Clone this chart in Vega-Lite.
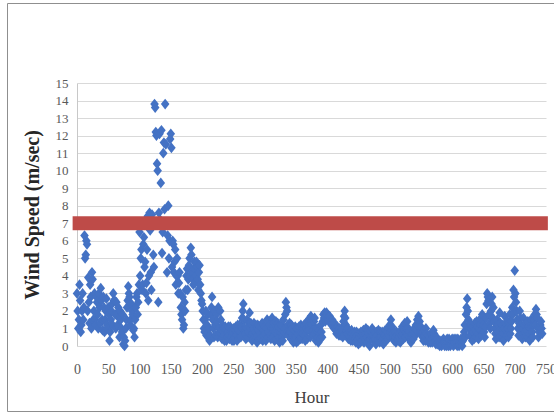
{
  "$schema": "https://vega.github.io/schema/vega-lite/v6.json",
  "width": 469,
  "height": 263,
  "autosize": "none",
  "padding": {"left": 77, "top": 83, "right": 8, "bottom": 68},
  "background": "white",
  "config": {"view": {"stroke": null}, "font": "Liberation Serif"},
  "resolve": {"axis": {"x": "independent", "y": "independent"}},
  "datasets": {
    "wind": [
      {"hour":0,"speed":3.0},{"hour":1,"speed":2.0},{"hour":2,"speed":1.0},{"hour":3,"speed":1.5},{"hour":4,"speed":3.5},{"hour":5,"speed":2.6},{"hour":6,"speed":0.8},{"hour":7,"speed":1.2},{"hour":8,"speed":2.0},{"hour":9,"speed":3.0},
      {"hour":10,"speed":1.5},{"hour":11,"speed":2.2},{"hour":12,"speed":6.3},{"hour":13,"speed":5.0},{"hour":14,"speed":5.2},{"hour":15,"speed":6.0},{"hour":16,"speed":5.8},{"hour":17,"speed":2.0},{"hour":18,"speed":3.9},{"hour":19,"speed":2.5},
      {"hour":20,"speed":1.3},{"hour":21,"speed":3.5},{"hour":22,"speed":2.8},{"hour":23,"speed":1.0},{"hour":24,"speed":4.2},{"hour":25,"speed":3.8},{"hour":26,"speed":1.5},{"hour":27,"speed":2.0},{"hour":28,"speed":3.0},{"hour":29,"speed":1.5},
      {"hour":30,"speed":1.2},{"hour":31,"speed":2.8},{"hour":32,"speed":2.5},{"hour":33,"speed":1.8},{"hour":34,"speed":1.0},{"hour":35,"speed":3.0},{"hour":36,"speed":2.2},{"hour":37,"speed":1.3},{"hour":38,"speed":3.3},{"hour":39,"speed":2.6},
      {"hour":40,"speed":1.5},{"hour":41,"speed":0.9},{"hour":42,"speed":2.8},{"hour":43,"speed":2.2},{"hour":44,"speed":0.8},{"hour":45,"speed":1.5},{"hour":46,"speed":2.0},{"hour":47,"speed":2.7},{"hour":48,"speed":1.2},{"hour":49,"speed":1.0},
      {"hour":50,"speed":2.2},{"hour":51,"speed":1.8},{"hour":52,"speed":0.3},{"hour":53,"speed":0.8},{"hour":54,"speed":1.5},{"hour":55,"speed":2.0},{"hour":56,"speed":2.4},{"hour":57,"speed":1.2},{"hour":58,"speed":3.0},{"hour":59,"speed":2.6},
      {"hour":60,"speed":2.6},{"hour":61,"speed":1.8},{"hour":62,"speed":1.0},{"hour":63,"speed":2.5},{"hour":64,"speed":1.8},{"hour":65,"speed":1.2},{"hour":66,"speed":2.2},{"hour":67,"speed":1.6},{"hour":68,"speed":0.5},{"hour":69,"speed":2.0},
      {"hour":70,"speed":1.5},{"hour":71,"speed":1.0},{"hour":72,"speed":0.8},{"hour":73,"speed":1.8},{"hour":74,"speed":0.1},{"hour":75,"speed":0.5},{"hour":76,"speed":0.0},{"hour":77,"speed":0.3},{"hour":78,"speed":1.0},{"hour":79,"speed":1.5},
      {"hour":80,"speed":2.2},{"hour":81,"speed":2.6},{"hour":82,"speed":3.4},{"hour":83,"speed":3.0},{"hour":84,"speed":2.8},{"hour":85,"speed":1.2},{"hour":86,"speed":1.5},{"hour":87,"speed":2.4},{"hour":88,"speed":2.0},{"hour":89,"speed":1.8},
      {"hour":90,"speed":0.9},{"hour":91,"speed":1.0},{"hour":92,"speed":0.5},{"hour":93,"speed":1.5},{"hour":94,"speed":2.2},{"hour":95,"speed":2.8},{"hour":96,"speed":3.0},{"hour":97,"speed":1.8},{"hour":98,"speed":2.5},{"hour":99,"speed":3.5},
      {"hour":100,"speed":6.5},{"hour":101,"speed":4.0},{"hour":102,"speed":5.0},{"hour":103,"speed":5.5},{"hour":104,"speed":3.2},{"hour":105,"speed":3.5},{"hour":106,"speed":5.8},{"hour":107,"speed":6.2},{"hour":108,"speed":4.5},{"hour":109,"speed":4.8},
      {"hour":110,"speed":3.0},{"hour":111,"speed":3.6},{"hour":112,"speed":5.5},{"hour":113,"speed":7.4},{"hour":114,"speed":2.6},{"hour":115,"speed":4.0},{"hour":116,"speed":7.6},{"hour":117,"speed":6.6},{"hour":118,"speed":4.2},{"hour":119,"speed":3.2},
      {"hour":120,"speed":7.5},{"hour":121,"speed":7.0},{"hour":122,"speed":5.2},{"hour":123,"speed":4.5},{"hour":124,"speed":13.8},{"hour":125,"speed":13.6},{"hour":126,"speed":12.2},{"hour":127,"speed":12.0},{"hour":128,"speed":10.4},{"hour":129,"speed":10.0},
      {"hour":130,"speed":2.5},{"hour":131,"speed":7.6},{"hour":132,"speed":12.1},{"hour":133,"speed":7.2},{"hour":134,"speed":9.3},{"hour":135,"speed":12.3},{"hour":136,"speed":5.3},{"hour":137,"speed":6.5},{"hour":138,"speed":11.0},{"hour":139,"speed":11.6},
      {"hour":140,"speed":7.8},{"hour":141,"speed":13.8},{"hour":142,"speed":11.5},{"hour":143,"speed":7.0},{"hour":144,"speed":4.2},{"hour":145,"speed":6.3},{"hour":146,"speed":8.0},{"hour":147,"speed":5.0},{"hour":148,"speed":6.0},{"hour":149,"speed":11.8},
      {"hour":150,"speed":12.1},{"hour":151,"speed":11.3},{"hour":152,"speed":4.5},{"hour":153,"speed":6.0},{"hour":154,"speed":5.8},{"hour":155,"speed":4.2},{"hour":156,"speed":4.8},{"hour":157,"speed":5.5},{"hour":158,"speed":3.5},{"hour":159,"speed":4.0},
      {"hour":160,"speed":5.0},{"hour":161,"speed":4.0},{"hour":162,"speed":3.0},{"hour":163,"speed":3.6},{"hour":164,"speed":4.2},{"hour":165,"speed":3.0},{"hour":166,"speed":2.2},{"hour":167,"speed":1.8},{"hour":168,"speed":1.5},{"hour":169,"speed":2.8},
      {"hour":170,"speed":1.0},{"hour":171,"speed":1.2},{"hour":172,"speed":2.5},{"hour":173,"speed":2.0},{"hour":174,"speed":3.2},{"hour":175,"speed":4.0},{"hour":176,"speed":4.4},{"hour":177,"speed":3.2},{"hour":178,"speed":3.8},{"hour":179,"speed":4.6},
      {"hour":180,"speed":5.0},{"hour":181,"speed":4.0},{"hour":182,"speed":5.6},{"hour":183,"speed":5.2},{"hour":184,"speed":4.2},{"hour":185,"speed":3.8},{"hour":186,"speed":3.5},{"hour":187,"speed":4.4},{"hour":188,"speed":4.8},{"hour":189,"speed":3.6},
      {"hour":190,"speed":4.0},{"hour":191,"speed":4.8},{"hour":192,"speed":4.5},{"hour":193,"speed":3.8},{"hour":194,"speed":3.2},{"hour":195,"speed":4.2},{"hour":196,"speed":4.6},{"hour":197,"speed":3.5},{"hour":198,"speed":3.0},{"hour":199,"speed":2.6},
      {"hour":200,"speed":2.4},{"hour":201,"speed":2.0},{"hour":202,"speed":1.5},{"hour":203,"speed":1.0},{"hour":204,"speed":0.8},{"hour":205,"speed":1.5},{"hour":206,"speed":2.0},{"hour":207,"speed":0.6},{"hour":208,"speed":1.2},{"hour":209,"speed":1.8},
      {"hour":210,"speed":0.5},{"hour":211,"speed":1.0},{"hour":212,"speed":0.3},{"hour":213,"speed":0.6},{"hour":214,"speed":1.8},{"hour":215,"speed":2.2},{"hour":216,"speed":2.8},{"hour":217,"speed":1.5},{"hour":218,"speed":1.0},{"hour":219,"speed":0.5},
      {"hour":220,"speed":2.0},{"hour":221,"speed":1.2},{"hour":222,"speed":0.6},{"hour":223,"speed":1.8},{"hour":224,"speed":1.4},{"hour":225,"speed":0.5},{"hour":226,"speed":2.2},{"hour":227,"speed":1.0},{"hour":228,"speed":0.8},{"hour":229,"speed":2.0},
      {"hour":230,"speed":1.5},{"hour":231,"speed":0.9},{"hour":232,"speed":0.4},{"hour":233,"speed":1.2},{"hour":234,"speed":1.0},{"hour":235,"speed":0.6},{"hour":236,"speed":0.3},{"hour":237,"speed":1.1},{"hour":238,"speed":0.9},{"hour":239,"speed":0.3},
      {"hour":240,"speed":0.5},{"hour":241,"speed":0.8},{"hour":242,"speed":1.1},{"hour":243,"speed":0.6},{"hour":244,"speed":0.4},{"hour":245,"speed":1.1},{"hour":246,"speed":0.8},{"hour":247,"speed":0.5},{"hour":248,"speed":0.3},{"hour":249,"speed":0.8},
      {"hour":250,"speed":1.0},{"hour":251,"speed":0.3},{"hour":252,"speed":0.5},{"hour":253,"speed":0.9},{"hour":254,"speed":1.1},{"hour":255,"speed":0.6},{"hour":256,"speed":0.3},{"hour":257,"speed":1.2},{"hour":258,"speed":0.9},{"hour":259,"speed":0.5},
      {"hour":260,"speed":1.2},{"hour":261,"speed":0.8},{"hour":262,"speed":0.5},{"hour":263,"speed":1.1},{"hour":264,"speed":1.6},{"hour":265,"speed":2.0},{"hour":266,"speed":2.4},{"hour":267,"speed":1.5},{"hour":268,"speed":1.0},{"hour":269,"speed":0.7},
      {"hour":270,"speed":0.4},{"hour":271,"speed":1.0},{"hour":272,"speed":1.5},{"hour":273,"speed":0.5},{"hour":274,"speed":0.8},{"hour":275,"speed":1.3},{"hour":276,"speed":1.9},{"hour":277,"speed":1.0},{"hour":278,"speed":1.3},{"hour":279,"speed":0.6},
      {"hour":280,"speed":0.3},{"hour":281,"speed":0.7},{"hour":282,"speed":1.0},{"hour":283,"speed":1.3},{"hour":284,"speed":0.5},{"hour":285,"speed":0.8},{"hour":286,"speed":1.2},{"hour":287,"speed":0.5},{"hour":288,"speed":0.2},{"hour":289,"speed":1.2},
      {"hour":290,"speed":0.9},{"hour":291,"speed":0.4},{"hour":292,"speed":1.1},{"hour":293,"speed":0.7},{"hour":294,"speed":0.4},{"hour":295,"speed":1.0},{"hour":296,"speed":1.3},{"hour":297,"speed":0.3},{"hour":298,"speed":0.6},{"hour":299,"speed":0.9},
      {"hour":300,"speed":1.1},{"hour":301,"speed":0.7},{"hour":302,"speed":0.3},{"hour":303,"speed":1.0},{"hour":304,"speed":1.5},{"hour":305,"speed":0.5},{"hour":306,"speed":0.8},{"hour":307,"speed":1.4},{"hour":308,"speed":1.2},{"hour":309,"speed":0.6},
      {"hour":310,"speed":0.4},{"hour":311,"speed":1.0},{"hour":312,"speed":1.6},{"hour":313,"speed":0.5},{"hour":314,"speed":1.0},{"hour":315,"speed":1.3},{"hour":316,"speed":0.3},{"hour":317,"speed":0.8},{"hour":318,"speed":1.4},{"hour":319,"speed":0.4},
      {"hour":320,"speed":0.7},{"hour":321,"speed":1.3},{"hour":322,"speed":1.1},{"hour":323,"speed":0.5},{"hour":324,"speed":0.2},{"hour":325,"speed":0.8},{"hour":326,"speed":1.0},{"hour":327,"speed":1.2},{"hour":328,"speed":0.5},{"hour":329,"speed":0.3},
      {"hour":330,"speed":1.5},{"hour":331,"speed":0.8},{"hour":332,"speed":1.0},{"hour":333,"speed":1.8},{"hour":334,"speed":2.5},{"hour":335,"speed":2.2},{"hour":336,"speed":2.0},{"hour":337,"speed":1.2},{"hour":338,"speed":0.6},{"hour":339,"speed":0.9},
      {"hour":340,"speed":1.3},{"hour":341,"speed":0.8},{"hour":342,"speed":0.4},{"hour":343,"speed":1.2},{"hour":344,"speed":1.0},{"hour":345,"speed":0.6},{"hour":346,"speed":0.2},{"hour":347,"speed":0.5},{"hour":348,"speed":0.9},{"hour":349,"speed":1.1},
      {"hour":350,"speed":0.5},{"hour":351,"speed":0.2},{"hour":352,"speed":1.0},{"hour":353,"speed":0.7},{"hour":354,"speed":0.3},{"hour":355,"speed":1.1},{"hour":356,"speed":0.8},{"hour":357,"speed":0.4},{"hour":358,"speed":1.2},{"hour":359,"speed":0.8},
      {"hour":360,"speed":0.4},{"hour":361,"speed":0.7},{"hour":362,"speed":1.0},{"hour":363,"speed":1.2},{"hour":364,"speed":0.6},{"hour":365,"speed":0.3},{"hour":366,"speed":1.3},{"hour":367,"speed":1.0},{"hour":368,"speed":0.4},{"hour":369,"speed":0.9},
      {"hour":370,"speed":1.5},{"hour":371,"speed":1.2},{"hour":372,"speed":0.9},{"hour":373,"speed":0.5},{"hour":374,"speed":1.7},{"hour":375,"speed":1.4},{"hour":376,"speed":1.2},{"hour":377,"speed":0.9},{"hour":378,"speed":0.6},{"hour":379,"speed":1.4},
      {"hour":380,"speed":1.6},{"hour":381,"speed":1.0},{"hour":382,"speed":0.3},{"hour":383,"speed":0.6},{"hour":384,"speed":1.0},{"hour":385,"speed":0.5},{"hour":386,"speed":0.2},{"hour":387,"speed":0.9},{"hour":388,"speed":0.7},{"hour":389,"speed":0.4},
      {"hour":390,"speed":1.2},{"hour":391,"speed":0.8},{"hour":392,"speed":0.5},{"hour":393,"speed":1.4},{"hour":394,"speed":1.8},{"hour":395,"speed":1.6},{"hour":396,"speed":1.9},{"hour":397,"speed":1.4},{"hour":398,"speed":1.6},{"hour":399,"speed":1.9},
      {"hour":400,"speed":1.8},{"hour":401,"speed":1.6},{"hour":402,"speed":1.5},{"hour":403,"speed":1.4},{"hour":404,"speed":1.7},{"hour":405,"speed":1.5},{"hour":406,"speed":1.3},{"hour":407,"speed":1.2},{"hour":408,"speed":1.5},{"hour":409,"speed":1.3},
      {"hour":410,"speed":1.1},{"hour":411,"speed":1.0},{"hour":412,"speed":1.3},{"hour":413,"speed":1.1},{"hour":414,"speed":0.9},{"hour":415,"speed":0.7},{"hour":416,"speed":1.1},{"hour":417,"speed":0.9},{"hour":418,"speed":0.8},{"hour":419,"speed":0.6},
      {"hour":420,"speed":1.0},{"hour":421,"speed":0.8},{"hour":422,"speed":0.6},{"hour":423,"speed":1.0},{"hour":424,"speed":0.9},{"hour":425,"speed":0.5},{"hour":426,"speed":1.4},{"hour":427,"speed":1.7},{"hour":428,"speed":2.0},{"hour":429,"speed":1.6},
      {"hour":430,"speed":1.2},{"hour":431,"speed":0.9},{"hour":432,"speed":0.7},{"hour":433,"speed":1.0},{"hour":434,"speed":0.4},{"hour":435,"speed":0.6},{"hour":436,"speed":0.8},{"hour":437,"speed":0.5},{"hour":438,"speed":0.3},{"hour":439,"speed":0.9},
      {"hour":440,"speed":0.7},{"hour":441,"speed":0.3},{"hour":442,"speed":0.5},{"hour":443,"speed":0.6},{"hour":444,"speed":0.8},{"hour":445,"speed":0.4},{"hour":446,"speed":0.2},{"hour":447,"speed":0.8},{"hour":448,"speed":0.6},{"hour":449,"speed":0.4},
      {"hour":450,"speed":0.1},{"hour":451,"speed":0.7},{"hour":452,"speed":0.5},{"hour":453,"speed":0.2},{"hour":454,"speed":0.8},{"hour":455,"speed":0.6},{"hour":456,"speed":0.3},{"hour":457,"speed":0.7},{"hour":458,"speed":0.9},{"hour":459,"speed":0.2},
      {"hour":460,"speed":0.4},{"hour":461,"speed":0.7},{"hour":462,"speed":1.0},{"hour":463,"speed":0.5},{"hour":464,"speed":0.2},{"hour":465,"speed":0.9},{"hour":466,"speed":0.7},{"hour":467,"speed":0.3},{"hour":468,"speed":0.0},{"hour":469,"speed":0.4},
      {"hour":470,"speed":0.6},{"hour":471,"speed":0.8},{"hour":472,"speed":1.0},{"hour":473,"speed":0.6},{"hour":474,"speed":0.3},{"hour":475,"speed":0.5},{"hour":476,"speed":0.8},{"hour":477,"speed":0.4},{"hour":478,"speed":0.1},{"hour":479,"speed":0.8},
      {"hour":480,"speed":0.6},{"hour":481,"speed":0.3},{"hour":482,"speed":0.9},{"hour":483,"speed":0.5},{"hour":484,"speed":0.2},{"hour":485,"speed":0.8},{"hour":486,"speed":0.5},{"hour":487,"speed":0.3},{"hour":488,"speed":0.8},{"hour":489,"speed":0.4},
      {"hour":490,"speed":0.1},{"hour":491,"speed":0.7},{"hour":492,"speed":0.6},{"hour":493,"speed":0.9},{"hour":494,"speed":0.3},{"hour":495,"speed":0.5},{"hour":496,"speed":0.8},{"hour":497,"speed":0.4},{"hour":498,"speed":1.0},{"hour":499,"speed":0.6},
      {"hour":500,"speed":1.2},{"hour":501,"speed":0.8},{"hour":502,"speed":1.5},{"hour":503,"speed":0.9},{"hour":504,"speed":1.1},{"hour":505,"speed":0.7},{"hour":506,"speed":0.5},{"hour":507,"speed":0.3},{"hour":508,"speed":0.8},{"hour":509,"speed":0.5},
      {"hour":510,"speed":0.2},{"hour":511,"speed":0.8},{"hour":512,"speed":0.6},{"hour":513,"speed":0.4},{"hour":514,"speed":0.3},{"hour":515,"speed":0.5},{"hour":516,"speed":0.7},{"hour":517,"speed":0.2},{"hour":518,"speed":0.9},{"hour":519,"speed":0.6},
      {"hour":520,"speed":1.1},{"hour":521,"speed":0.7},{"hour":522,"speed":0.4},{"hour":523,"speed":0.9},{"hour":524,"speed":1.3},{"hour":525,"speed":0.5},{"hour":526,"speed":0.8},{"hour":527,"speed":1.0},{"hour":528,"speed":1.4},{"hour":529,"speed":0.6},
      {"hour":530,"speed":1.0},{"hour":531,"speed":0.8},{"hour":532,"speed":0.5},{"hour":533,"speed":0.3},{"hour":534,"speed":0.2},{"hour":535,"speed":0.5},{"hour":536,"speed":0.7},{"hour":537,"speed":0.9},{"hour":538,"speed":0.4},{"hour":539,"speed":0.7},
      {"hour":540,"speed":1.0},{"hour":541,"speed":0.6},{"hour":542,"speed":1.2},{"hour":543,"speed":0.9},{"hour":544,"speed":1.5},{"hour":545,"speed":1.2},{"hour":546,"speed":1.7},{"hour":547,"speed":1.1},{"hour":548,"speed":1.4},{"hour":549,"speed":0.8},
      {"hour":550,"speed":1.1},{"hour":551,"speed":0.6},{"hour":552,"speed":0.8},{"hour":553,"speed":0.5},{"hour":554,"speed":0.3},{"hour":555,"speed":0.9},{"hour":556,"speed":0.6},{"hour":557,"speed":0.3},{"hour":558,"speed":1.0},{"hour":559,"speed":0.7},
      {"hour":560,"speed":0.4},{"hour":561,"speed":0.6},{"hour":562,"speed":0.2},{"hour":563,"speed":0.4},{"hour":564,"speed":0.5},{"hour":565,"speed":0.2},{"hour":566,"speed":0.7},{"hour":567,"speed":0.4},{"hour":568,"speed":0.2},{"hour":569,"speed":0.5},
      {"hour":570,"speed":0.9},{"hour":571,"speed":0.7},{"hour":572,"speed":0.5},{"hour":573,"speed":0.3},{"hour":574,"speed":0.1},{"hour":575,"speed":0.5},{"hour":576,"speed":0.4},{"hour":577,"speed":0.1},{"hour":578,"speed":0.2},{"hour":579,"speed":0.3},
      {"hour":580,"speed":0.0},{"hour":581,"speed":0.2},{"hour":582,"speed":0.3},{"hour":583,"speed":0.0},{"hour":584,"speed":0.1},{"hour":585,"speed":0.3},{"hour":586,"speed":0.4},{"hour":587,"speed":0.2},{"hour":588,"speed":0.0},{"hour":589,"speed":0.3},
      {"hour":590,"speed":0.2},{"hour":591,"speed":0.0},{"hour":592,"speed":0.4},{"hour":593,"speed":0.2},{"hour":594,"speed":0.0},{"hour":595,"speed":0.4},{"hour":596,"speed":0.3},{"hour":597,"speed":0.0},{"hour":598,"speed":0.1},{"hour":599,"speed":0.3},
      {"hour":600,"speed":0.4},{"hour":601,"speed":0.2},{"hour":602,"speed":0.0},{"hour":603,"speed":0.4},{"hour":604,"speed":0.2},{"hour":605,"speed":0.1},{"hour":606,"speed":0.4},{"hour":607,"speed":0.2},{"hour":608,"speed":0.0},{"hour":609,"speed":0.4},
      {"hour":610,"speed":0.3},{"hour":611,"speed":0.0},{"hour":612,"speed":0.1},{"hour":613,"speed":0.3},{"hour":614,"speed":0.4},{"hour":615,"speed":0.2},{"hour":616,"speed":0.0},{"hour":617,"speed":0.3},{"hour":618,"speed":0.5},{"hour":619,"speed":0.8},
      {"hour":620,"speed":1.2},{"hour":621,"speed":0.5},{"hour":622,"speed":1.8},{"hour":623,"speed":2.2},{"hour":624,"speed":2.7},{"hour":625,"speed":2.0},{"hour":626,"speed":1.5},{"hour":627,"speed":1.0},{"hour":628,"speed":0.6},{"hour":629,"speed":1.3},
      {"hour":630,"speed":1.0},{"hour":631,"speed":0.6},{"hour":632,"speed":0.3},{"hour":633,"speed":1.1},{"hour":634,"speed":0.8},{"hour":635,"speed":0.4},{"hour":636,"speed":1.3},{"hour":637,"speed":0.9},{"hour":638,"speed":0.5},{"hour":639,"speed":1.4},
      {"hour":640,"speed":1.1},{"hour":641,"speed":0.7},{"hour":642,"speed":0.4},{"hour":643,"speed":1.0},{"hour":644,"speed":1.5},{"hour":645,"speed":1.2},{"hour":646,"speed":0.9},{"hour":647,"speed":0.6},{"hour":648,"speed":1.8},{"hour":649,"speed":1.4},
      {"hour":650,"speed":1.2},{"hour":651,"speed":0.8},{"hour":652,"speed":0.5},{"hour":653,"speed":1.1},{"hour":654,"speed":1.6},{"hour":655,"speed":2.4},{"hour":656,"speed":3.0},{"hour":657,"speed":2.8},{"hour":658,"speed":2.6},{"hour":659,"speed":1.8},
      {"hour":660,"speed":1.3},{"hour":661,"speed":1.0},{"hour":662,"speed":2.0},{"hour":663,"speed":2.4},{"hour":664,"speed":2.8},{"hour":665,"speed":1.6},{"hour":666,"speed":2.2},{"hour":667,"speed":1.4},{"hour":668,"speed":1.0},{"hour":669,"speed":0.7},
      {"hour":670,"speed":0.4},{"hour":671,"speed":1.0},{"hour":672,"speed":1.5},{"hour":673,"speed":1.2},{"hour":674,"speed":0.8},{"hour":675,"speed":0.5},{"hour":676,"speed":1.9},{"hour":677,"speed":1.3},{"hour":678,"speed":0.6},{"hour":679,"speed":1.0},
      {"hour":680,"speed":1.2},{"hour":681,"speed":0.7},{"hour":682,"speed":0.3},{"hour":683,"speed":1.0},{"hour":684,"speed":1.7},{"hour":685,"speed":1.3},{"hour":686,"speed":0.9},{"hour":687,"speed":0.6},{"hour":688,"speed":1.4},{"hour":689,"speed":1.0},
      {"hour":690,"speed":0.5},{"hour":691,"speed":1.3},{"hour":692,"speed":1.8},{"hour":693,"speed":0.7},{"hour":694,"speed":1.0},{"hour":695,"speed":1.4},{"hour":696,"speed":2.2},{"hour":697,"speed":1.8},{"hour":698,"speed":3.2},{"hour":699,"speed":2.8},
      {"hour":700,"speed":4.3},{"hour":701,"speed":3.0},{"hour":702,"speed":2.5},{"hour":703,"speed":2.0},{"hour":704,"speed":1.5},{"hour":705,"speed":1.0},{"hour":706,"speed":0.6},{"hour":707,"speed":1.3},{"hour":708,"speed":2.0},{"hour":709,"speed":1.6},
      {"hour":710,"speed":1.2},{"hour":711,"speed":0.8},{"hour":712,"speed":0.4},{"hour":713,"speed":1.0},{"hour":714,"speed":1.6},{"hour":715,"speed":1.2},{"hour":716,"speed":0.8},{"hour":717,"speed":0.5},{"hour":718,"speed":1.3},{"hour":719,"speed":0.9},
      {"hour":720,"speed":0.5},{"hour":721,"speed":1.4},{"hour":722,"speed":1.1},{"hour":723,"speed":0.7},{"hour":724,"speed":0.3},{"hour":725,"speed":1.0},{"hour":726,"speed":1.5},{"hour":727,"speed":1.2},{"hour":728,"speed":0.8},{"hour":729,"speed":0.5},
      {"hour":730,"speed":1.2},{"hour":731,"speed":1.5},{"hour":732,"speed":1.8},{"hour":733,"speed":1.2},{"hour":734,"speed":2.1},{"hour":735,"speed":1.8},{"hour":736,"speed":1.6},{"hour":737,"speed":1.0},{"hour":738,"speed":0.5},{"hour":739,"speed":0.8},
      {"hour":740,"speed":1.0},{"hour":741,"speed":1.2},{"hour":742,"speed":1.4},{"hour":743,"speed":1.0},{"hour":744,"speed":0.7}
    ]
  },
  "layer": [
    {
      "description": "Chart-area border",
      "data": {"values": [{}]},
      "mark": {"type": "rect", "fill": null, "stroke": "#8f8f8f", "strokeWidth": 1},
      "encoding": {
        "x": {"value": -69.5},
        "x2": {"value": 490},
        "y": {"value": -79.5},
        "y2": {"value": 328.5}
      }
    },
    {
      "data": {"name": "wind"},
      "mark": {
        "type": "point",
        "filled": true,
        "shape": "M0,-1L0.8,0L0,1L-0.8,0Z",
        "size": 115,
        "opacity": 1,
        "color": "#4472C4",
        "clip": false
      },
      "encoding": {
        "x": {
          "field": "hour",
          "type": "quantitative",
          "scale": {"domain": [0, 750], "nice": false, "zero": false},
          "axis": {
            "values": [0, 50, 100, 150, 200, 250, 300, 350, 400, 450, 500, 550, 600, 650, 700, 750],
            "grid": false,
            "domain": false,
            "ticks": false,
            "labelFont": "Liberation Serif",
            "labelFontSize": 14,
            "labelColor": "#595959",
            "labelPadding": 16,
            "labelFlush": false,
            "labelOverlap": false,
            "title": "Hour",
            "titleFont": "Liberation Serif",
            "titleFontSize": 17,
            "titleFontWeight": "normal",
            "titleColor": "#404040",
            "titlePadding": 13
          }
        },
        "y": {
          "field": "speed",
          "type": "quantitative",
          "scale": {"domain": [0, 15], "nice": false},
          "axis": {
            "values": [0, 1, 2, 3, 4, 5, 6, 7, 8, 9, 10, 11, 12, 13, 14, 15],
            "grid": true,
            "gridColor": "#D9D9D9",
            "gridWidth": 1,
            "domain": true,
            "domainColor": "#C8C8C8",
            "ticks": false,
            "labelFont": "Liberation Serif",
            "labelFontSize": 13,
            "labelColor": "#595959",
            "labelPadding": 9,
            "labelOverlap": false,
            "title": "Wind Speed (m/sec)",
            "titleFont": "Liberation Serif",
            "titleFontSize": 20,
            "titleFontWeight": "bold",
            "titleColor": "#262626",
            "titlePadding": 13
          }
        }
      }
    },
    {
      "description": "Threshold band at 7 m/sec",
      "data": {"values": [{"threshold": 7}]},
      "mark": {"type": "rule", "color": "#BE4B48", "strokeWidth": 14, "strokeCap": "butt", "clip": false},
      "encoding": {
        "y": {"field": "threshold", "type": "quantitative", "axis": null},
        "x": {"datum": -7, "axis": null},
        "x2": {"datum": 753}
      }
    }
  ]
}
